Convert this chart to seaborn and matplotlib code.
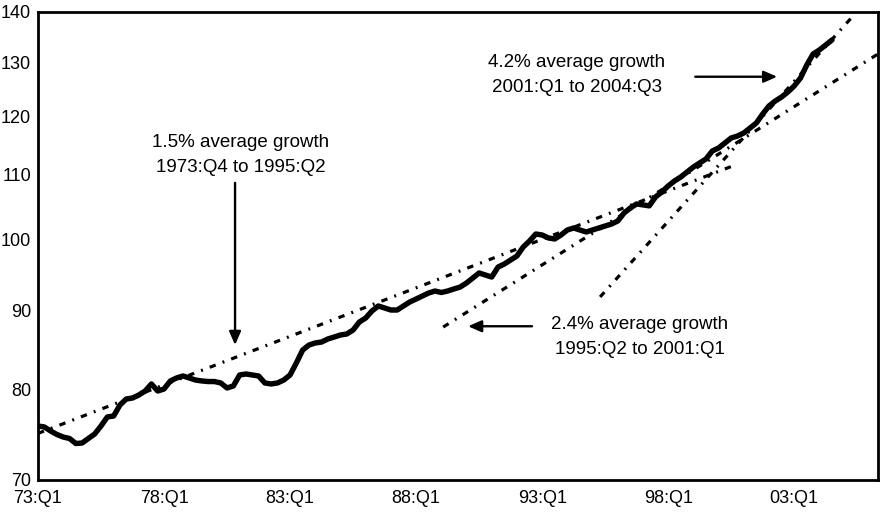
import matplotlib
matplotlib.use("Agg")
import matplotlib.pyplot as plt
from matplotlib.ticker import NullLocator, FixedLocator, FixedFormatter
import numpy as np
import pandas as pd
import seaborn as sns

# Productivity index, quarterly from 1973:Q1 to 2004:Q3 (log scale chart)
productivity = [
    75.83, 75.72, 75.27, 74.88, 74.60, 74.44, 73.89, 73.94, 74.44, 74.94,
    75.83, 76.85, 76.96, 78.22, 78.92, 79.04, 79.39, 79.86, 80.70, 79.86,
    80.10, 81.06, 81.42, 81.66, 81.42, 81.17, 81.06, 80.99, 80.99, 80.82,
    80.22, 80.46, 81.78, 81.90, 81.78, 81.66, 80.82, 80.70, 80.82, 81.17,
    81.78, 83.25, 84.86, 85.49, 85.75, 85.87, 86.26, 86.51, 86.77, 86.90,
    87.41, 88.46, 88.98, 89.91, 90.58, 90.31, 90.04, 90.04, 90.58, 91.12,
    91.52, 91.93, 92.34, 92.61, 92.41, 92.61, 92.89, 93.16, 93.72, 94.41,
    95.12, 94.83, 94.55, 95.95, 96.39, 96.96, 97.54, 98.85, 99.73, 100.77,
    100.62, 100.18, 100.03, 100.62, 101.37, 101.67, 101.37, 101.07, 101.37, 101.67,
    101.97, 102.27, 102.73, 103.95, 104.73, 105.36, 105.21, 105.06, 106.46, 107.24,
    108.20, 109.00, 109.65, 110.46, 111.28, 111.95, 112.61, 113.95, 114.46, 115.31,
    116.17, 116.51, 117.03, 117.90, 118.78, 120.37, 121.81, 122.71, 123.44, 124.36,
    125.47, 126.96, 129.43, 131.56, 132.34, 133.32, 134.32,
]
quarter_index = list(range(len(productivity)))

# Trend lines: [start quarter index, end quarter index], [start value, end value]
trend_15_q = [0.0, 110.6]
trend_15_v = [75.0, 111.6]
trend_24_q = [64.3, 134.0]
trend_24_v = [87.8, 132.1]
trend_42_q = [89.2, 129.7]
trend_42_v = [91.8, 139.7]

y_ticks = [70, 80, 90, 100, 110, 120, 130, 140]
x_tick_pos = [0, 20, 40, 60, 80, 100, 120]
x_tick_labels = ["73:Q1", "78:Q1", "83:Q1", "88:Q1", "93:Q1", "98:Q1", "03:Q1"]

ann_15_text = "1.5% average growth\n1973:Q4 to 1995:Q2"
ann_24_text = "2.4% average growth\n1995:Q2 to 2001:Q1"
ann_42_text = "4.2% average growth\n2001:Q1 to 2004:Q3"

sns.set_style("white")
plt.rcParams["font.family"] = ["Liberation Sans", "DejaVu Sans"]

fig = plt.figure(figsize=(8.83, 5.12), dpi=100)
ax = fig.add_axes([38 / 883, 1 - 480 / 512, 840 / 883, 468 / 512])
ax.set_yscale("log")

df = pd.DataFrame({"q": quarter_index, "v": productivity})
sns.lineplot(data=df, x="q", y="v", ax=ax, color="black", linewidth=3.9,
             solid_joinstyle="round", solid_capstyle="round")

dash = (0, (2.0, 2.3, 0.6, 2.3))
for tq, tv in [(trend_15_q, trend_15_v), (trend_24_q, trend_24_v), (trend_42_q, trend_42_v)]:
    ax.plot(tq, tv, color="black", linewidth=2.3, linestyle=dash, dash_capstyle="butt")

ax.set_xlim(0, 133.3)
ax.set_ylim(70, 140)
ax.yaxis.set_major_locator(FixedLocator(y_ticks))
ax.yaxis.set_major_formatter(FixedFormatter([str(t) for t in y_ticks]))
ax.yaxis.set_minor_locator(NullLocator())
ax.xaxis.set_major_locator(FixedLocator(x_tick_pos))
ax.xaxis.set_major_formatter(FixedFormatter(x_tick_labels))
ax.xaxis.set_minor_locator(NullLocator())

ax.tick_params(axis="both", direction="in", length=6, width=1.6, colors="black",
               labelsize=13, labelcolor="black")
ax.tick_params(axis="y", pad=5)
ax.tick_params(axis="x", pad=7)
for s in ax.spines.values():
    s.set_color("black")
    s.set_linewidth(2.0)
ax.set_xlabel("")
ax.set_ylabel("")
ax.grid(False)

txt_kw = dict(transform=ax.transAxes, ha="center", va="center", fontsize=13.5,
              multialignment="center", linespacing=1.6, color="black")
ax.text(0.2417, 0.6944, ann_15_text, **txt_kw)
ax.text(0.6417, 0.8654, ann_42_text, **txt_kw)
ax.text(0.7167, 0.3056, ann_24_text, **txt_kw)

arrow_kw = dict(arrowstyle="-|>,head_length=0.8,head_width=0.35", color="black", lw=1.7,
                shrinkA=0, shrinkB=0)
ax.annotate("", xy=(31.27, 85.5), xytext=(31.27, 108.7), arrowprops=arrow_kw)
ax.annotate("", xy=(117.3, 127.2), xytext=(104.3, 127.2), arrowprops=arrow_kw)
ax.annotate("", xy=(68.25, 87.9), xytext=(78.4, 87.9), arrowprops=arrow_kw)

fig.savefig("out.png", dpi=100)
